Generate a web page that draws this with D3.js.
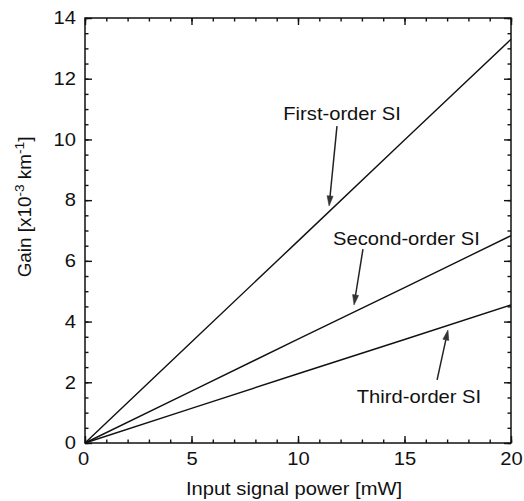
<!DOCTYPE html>
<html><head><meta charset="utf-8">
<script src="https://cdn.jsdelivr.net/npm/d3@7"></script>
<style>
html,body{margin:0;padding:0;background:#fff;}
svg{display:block;font-family:"Liberation Sans",Arial,sans-serif;}
</style></head>
<body>
<svg id="chart" width="524" height="501"></svg>
<script>
// ---- data ----
const power = [0, 5, 10, 15, 20];                 // input signal power [mW]
const firstOrder  = [0, 3.33, 6.65, 9.98, 13.3];  // gain x10^-3 km^-1
const secondOrder = [0, 1.71, 3.42, 5.12, 6.83];
const thirdOrder  = [0, 1.14, 2.28, 3.41, 4.55];
const xTicks = [0, 5, 10, 15, 20];
const yTicks = [0, 2, 4, 6, 8, 10, 12, 14];
const xMinor = d3.range(0, 20.01, 1);
const yMinor = d3.range(0, 14.01, 0.5);
const labels = ["First-order SI", "Second-order SI", "Third-order SI"];
// annotation anchors in data units: text center x, text baseline y, arrow start, arrow tip
const labelX = [12.07, 15.09, 15.68];
const labelY = [10.64, 6.52, 1.32];
const arrowFrom = [[11.83, 10.44], [13.05, 6.39], [16.53, 2.08]];
const arrowTo   = [[11.46, 7.81], [12.63, 4.55], [17.04, 3.72]];

const svg = d3.select("#chart");
const m = {left: 85, right: 511, top: 18, bottom: 443};
const x = d3.scaleLinear().domain([0, 20]).range([m.left, m.right]);
const y = d3.scaleLinear().domain([0, 14]).range([m.bottom, m.top]);
const SX = 1.12; // horizontal stretch of the scanned text
const FS = 18;

// frame
svg.append("rect").attr("x", m.left).attr("y", m.top)
  .attr("width", m.right - m.left).attr("height", m.bottom - m.top)
  .attr("fill", "none").attr("stroke", "#111").attr("stroke-width", 1.5);

function styleAxis(g) {
  g.select(".domain").remove();
  g.selectAll("line").attr("stroke", "#111").attr("stroke-width", 1.4);
}
// minor ticks
svg.append("g").attr("transform", `translate(0,${m.bottom})`)
  .call(d3.axisBottom(x).tickValues(xMinor).tickSize(-3.5).tickFormat("")).call(styleAxis);
svg.append("g").attr("transform", `translate(0,${m.top})`)
  .call(d3.axisTop(x).tickValues(xMinor).tickSize(-3.5).tickFormat("")).call(styleAxis);
svg.append("g").attr("transform", `translate(${m.left},0)`)
  .call(d3.axisLeft(y).tickValues(yMinor).tickSize(-3.5).tickFormat("")).call(styleAxis);
svg.append("g").attr("transform", `translate(${m.right},0)`)
  .call(d3.axisRight(y).tickValues(yMinor).tickSize(-3.5).tickFormat("")).call(styleAxis);
// major ticks
const xb = svg.append("g").attr("transform", `translate(0,${m.bottom})`)
  .call(d3.axisBottom(x).tickValues(xTicks).tickSize(-7).tickPadding(9).tickFormat(d3.format("d")))
  .call(styleAxis);
xb.selectAll("text").attr("font-size", FS).attr("fill", "#111").attr("font-family", null)
  .attr("transform", `scale(${SX},1)`);
xb.selectAll(".tick").filter(d => d === 0).select("text").attr("x", -2 / SX);
svg.append("g").attr("transform", `translate(0,${m.top})`)
  .call(d3.axisTop(x).tickValues(xTicks).tickSize(-7).tickFormat("")).call(styleAxis);
const yl = svg.append("g").attr("transform", `translate(${m.left},0)`)
  .call(d3.axisLeft(y).tickValues(yTicks).tickSize(-7).tickPadding(8).tickFormat(d3.format("d")))
  .call(styleAxis);
yl.selectAll("text").attr("font-size", FS).attr("fill", "#111").attr("font-family", null)
  .attr("x", -9 / SX).attr("transform", `scale(${SX},1)`);
svg.append("g").attr("transform", `translate(${m.right},0)`)
  .call(d3.axisRight(y).tickValues(yTicks).tickSize(-7).tickFormat("")).call(styleAxis);

// lines
const line = d3.line().x((d, i) => x(power[i])).y(d => y(d));
[firstOrder, secondOrder, thirdOrder].forEach(s => {
  svg.append("path").datum(s).attr("d", line)
    .attr("fill", "none").attr("stroke", "#111").attr("stroke-width", 1.4);
});

// annotations
labels.forEach((t, i) => {
  svg.append("text")
    .attr("transform", `translate(${x(labelX[i])},${y(labelY[i])}) scale(${SX},1)`)
    .attr("text-anchor", "middle").attr("font-size", FS).attr("fill", "#111").text(t);
  const x0 = x(arrowFrom[i][0]), y0 = y(arrowFrom[i][1]);
  const x1 = x(arrowTo[i][0]), y1 = y(arrowTo[i][1]);
  const ang = Math.atan2(y1 - y0, x1 - x0);
  const L = 10, W = 3;
  const bx = x1 - L * Math.cos(ang), by = y1 - L * Math.sin(ang);
  svg.append("line").attr("x1", x0).attr("y1", y0).attr("x2", bx).attr("y2", by)
    .attr("stroke", "#222").attr("stroke-width", 1.5);
  const px = -Math.sin(ang) * W, py = Math.cos(ang) * W;
  svg.append("path")
    .attr("d", `M${x1},${y1}L${bx + px},${by + py}L${bx - px},${by - py}Z`)
    .attr("fill", "#333").attr("stroke", "#333").attr("stroke-width", 0.6);
});

// axis titles
svg.append("text").attr("transform", `translate(${(m.left + m.right) / 2 - 4},495) scale(${SX},1)`)
  .attr("text-anchor", "middle").attr("font-size", FS).attr("fill", "#111")
  .text("Input signal power [mW]");
const yt = svg.append("text").attr("transform", `translate(31,207) rotate(-90) scale(1.05,1)`)
  .attr("text-anchor", "middle").attr("font-size", FS).attr("fill", "#111");
yt.append("tspan").text("Gain [x10");
yt.append("tspan").attr("dy", -7).attr("font-size", 13).text("-3");
yt.append("tspan").attr("dy", 7).text(" km");
yt.append("tspan").attr("dy", -7).attr("font-size", 13).text("-1");
yt.append("tspan").attr("dy", 7).text("]");
</script>
</body></html>
